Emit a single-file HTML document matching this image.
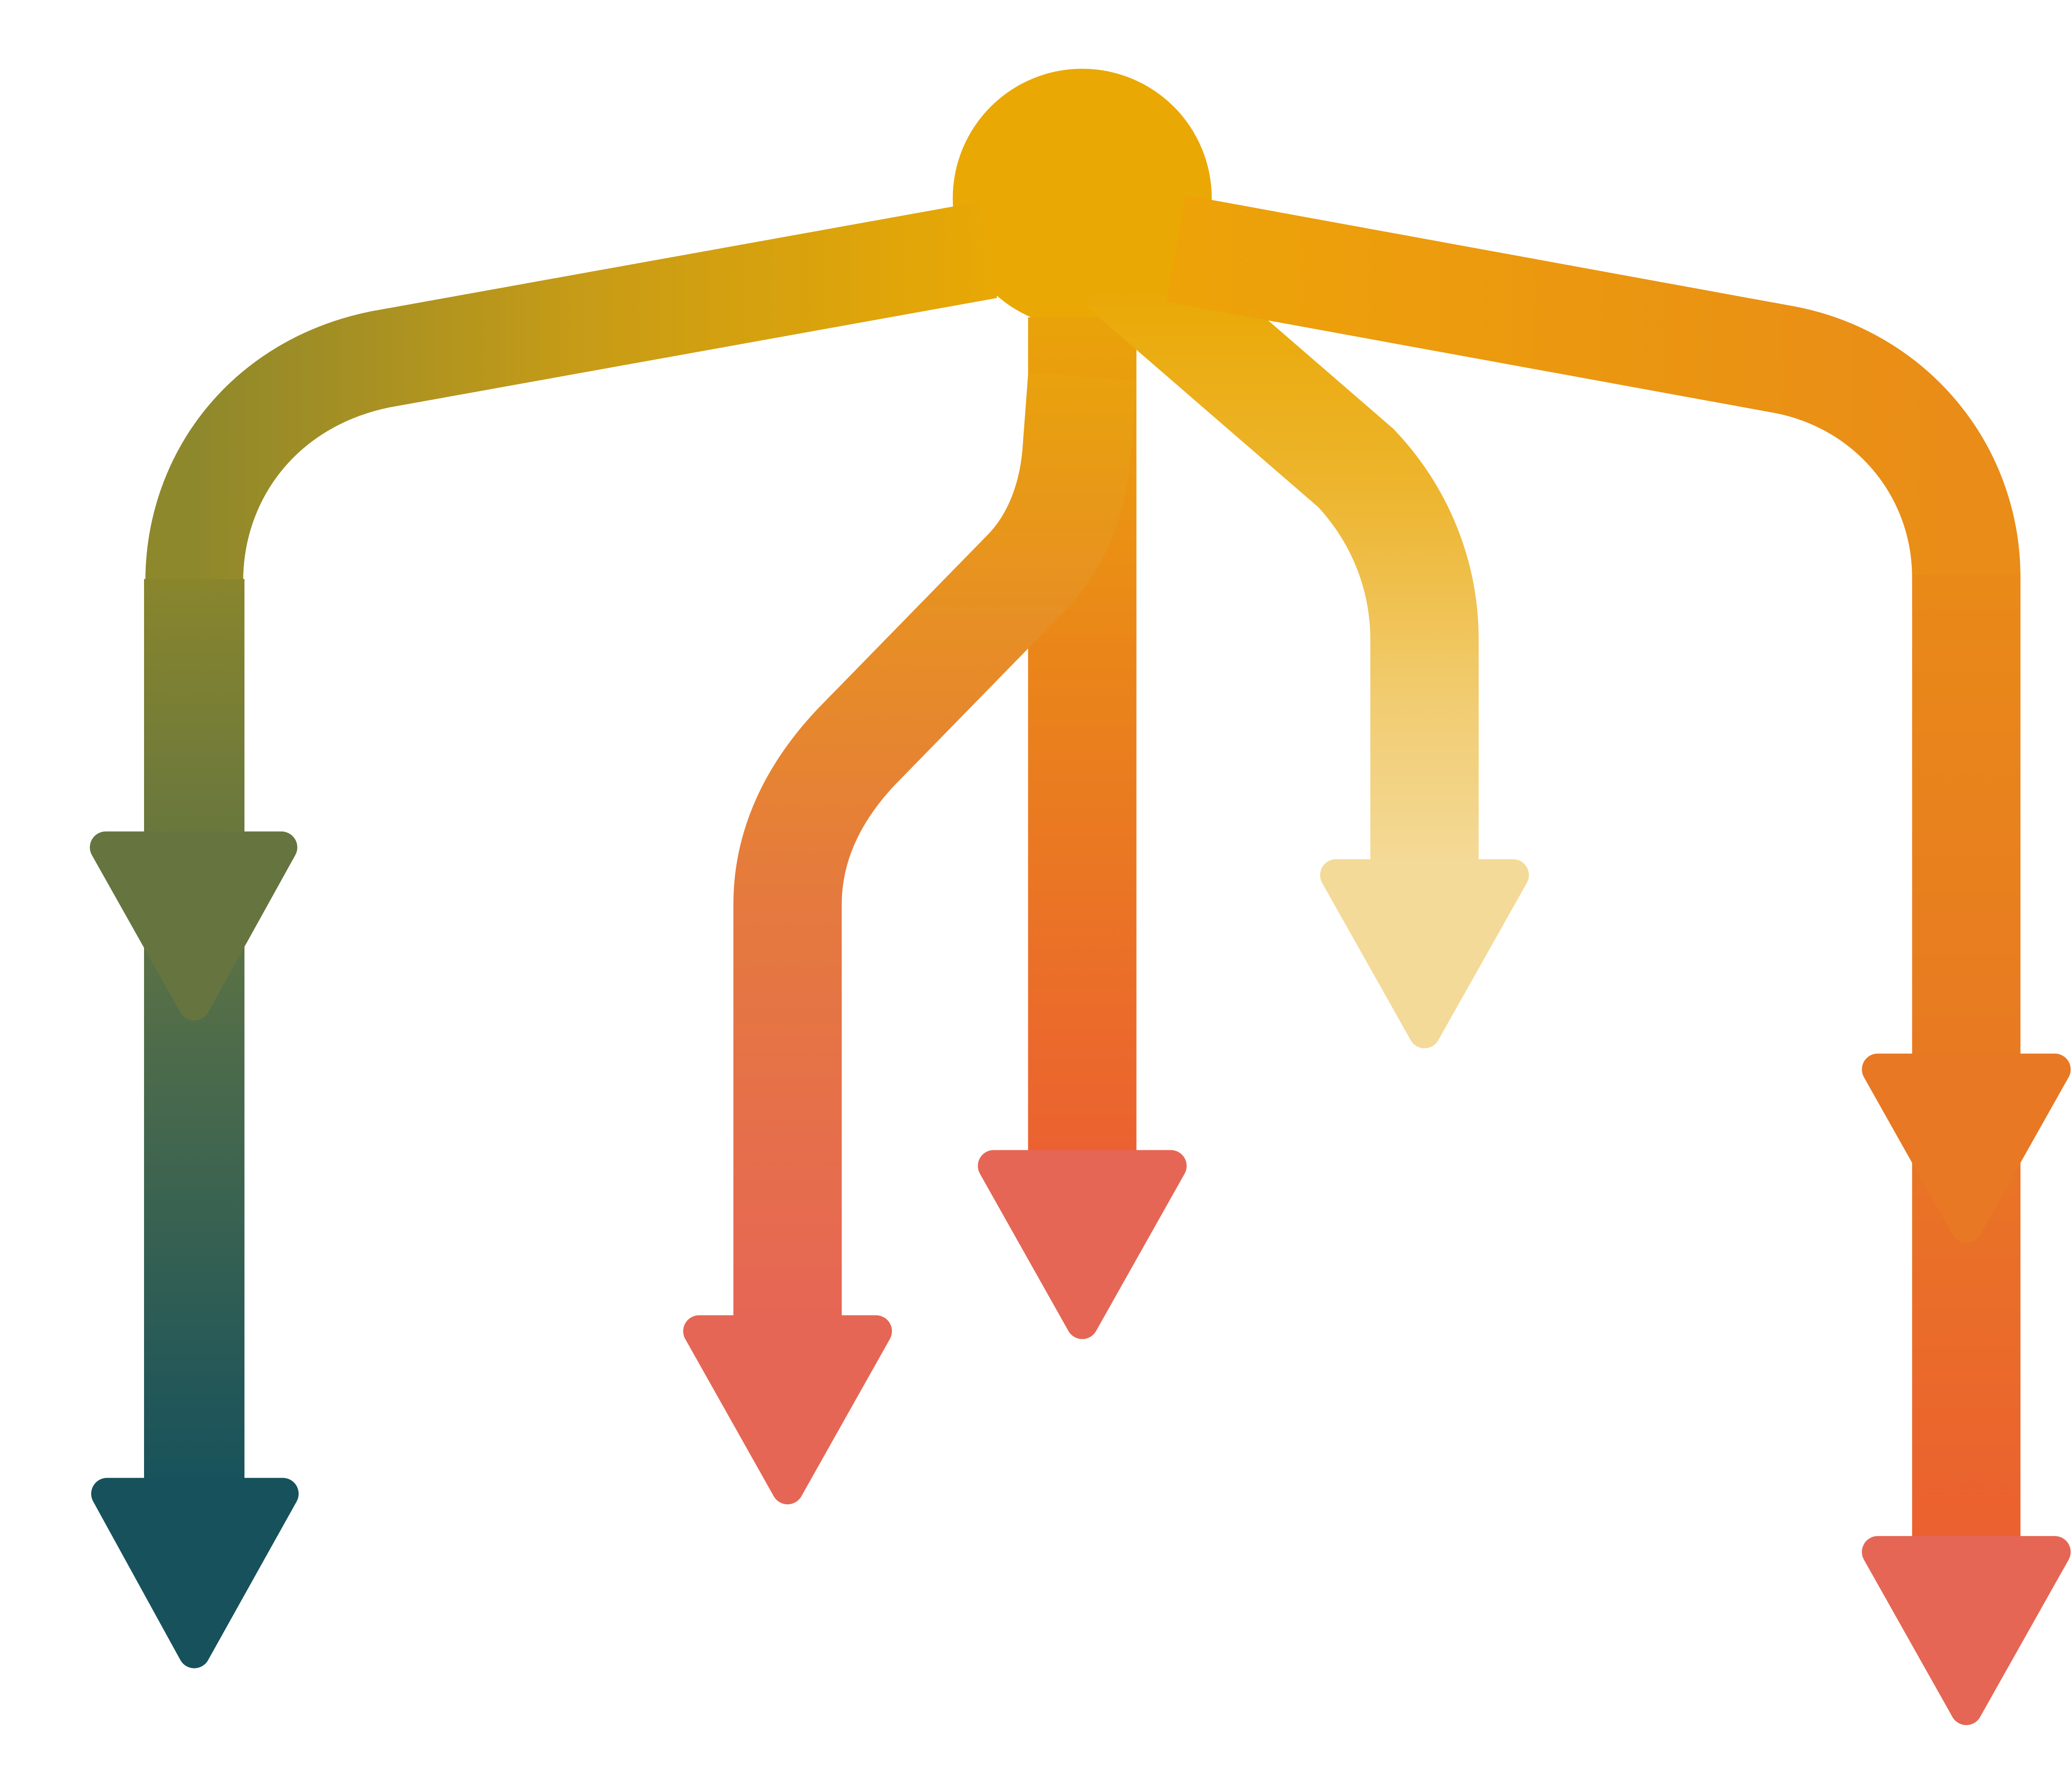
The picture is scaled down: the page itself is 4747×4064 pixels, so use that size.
<!DOCTYPE html>
<html><head><meta charset="utf-8"><style>html,body{margin:0;padding:0;background:#fff}svg{display:block}</style></head>
<body>
<svg width="4747" height="4064" viewBox="0 0 1568 1342" preserveAspectRatio="none" xmlns="http://www.w3.org/2000/svg">
<defs>
<linearGradient id="lh" gradientUnits="userSpaceOnUse" x1="750" y1="0" x2="147" y2="0">
<stop offset="0" stop-color="#E8A805"/><stop offset="0.5" stop-color="#C89C16"/><stop offset="1" stop-color="#8E882C"/></linearGradient>
<linearGradient id="lv" gradientUnits="userSpaceOnUse" x1="0" y1="430" x2="0" y2="1125">
<stop offset="0" stop-color="#8A862C"/><stop offset="0.3" stop-color="#68773E"/><stop offset="0.55" stop-color="#4A6A4C"/><stop offset="1" stop-color="#17525C"/></linearGradient>
<linearGradient id="cv" gradientUnits="userSpaceOnUse" x1="0" y1="240" x2="0" y2="870">
<stop offset="0" stop-color="#E9A30A"/><stop offset="0.4" stop-color="#EA8619"/><stop offset="1" stop-color="#EB6230"/></linearGradient>
<linearGradient id="clv" gradientUnits="userSpaceOnUse" x1="0" y1="280" x2="0" y2="1000">
<stop offset="0" stop-color="#E9A20C"/><stop offset="0.55" stop-color="#E57A3E"/><stop offset="1" stop-color="#E66655"/></linearGradient>
<linearGradient id="rm" gradientUnits="userSpaceOnUse" x1="0" y1="215" x2="0" y2="655">
<stop offset="0" stop-color="#EAA804"/><stop offset="0.35" stop-color="#EDB52E"/><stop offset="0.7" stop-color="#F1CB6E"/><stop offset="1" stop-color="#F4DA98"/></linearGradient>
<linearGradient id="rh" gradientUnits="userSpaceOnUse" x1="890" y1="0" x2="1488" y2="0">
<stop offset="0" stop-color="#EDA308"/><stop offset="1" stop-color="#E98C18"/></linearGradient>
<linearGradient id="rv" gradientUnits="userSpaceOnUse" x1="0" y1="430" x2="0" y2="1170">
<stop offset="0" stop-color="#E98A18"/><stop offset="0.5" stop-color="#E87A22"/><stop offset="1" stop-color="#EB6030"/></linearGradient>
</defs>
<circle cx="819" cy="150" r="98" fill="#EAA804"/>
<g fill="none" stroke-linecap="butt">
<path d="M748,189 L287,272 C200,290 147,360 147,440" stroke="url(#lh)" stroke-width="74"/>
<path d="M147,438 L147,1125" stroke="url(#lv)" stroke-width="76"/>
<path d="M819,240 L819,875" stroke="url(#cv)" stroke-width="82"/>
<path d="M819,285 L815,338 C813,375 800,410 776,434 L648,565 C615,600 596,640 596,684 L596,1000" stroke="url(#clv)" stroke-width="82"/>
<path d="M848,200 L1026,354 C1060,390 1078,436 1078,484 L1078,655" stroke="url(#rm)" stroke-width="82"/>
<path d="M890,188 L1350,272 C1430,287 1488,355 1488,437" stroke="url(#rh)" stroke-width="82"/>
<path d="M1488,435 L1488,1170" stroke="url(#rv)" stroke-width="82"/>
</g>
<g stroke-linejoin="round" stroke-width="24">
<polygon points="80,641 213,641 147,760" fill="#667540" stroke="#667540"/>
<polygon points="81,1130 214,1130 147,1250" fill="#17525C" stroke="#17525C"/>
<polygon points="752,882 886,882 819,1001" fill="#E66655" stroke="#E66655"/>
<polygon points="529,1007 663,1007 596,1126" fill="#E66655" stroke="#E66655"/>
<polygon points="1011,662 1145,662 1078,781" fill="#F4DA98" stroke="#F4DA98"/>
<polygon points="1421,809 1555,809 1488,928" fill="#E87824" stroke="#E87824"/>
<polygon points="1421,1174 1555,1174 1488,1293" fill="#E66655" stroke="#E66655"/>
</g>
</svg>
</body></html>
